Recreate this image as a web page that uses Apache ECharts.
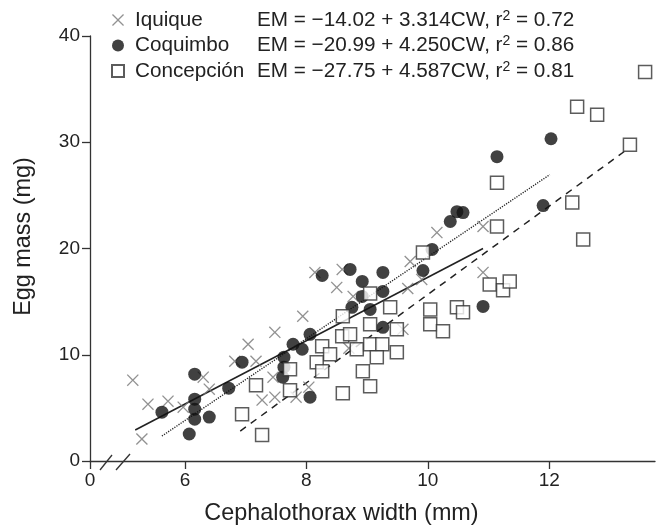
<!DOCTYPE html>
<html>
<head>
<meta charset="utf-8">
<script src="https://cdn.jsdelivr.net/npm/echarts@6/dist/echarts.min.js"></script>
<style>html,body{margin:0;padding:0;background:#fff}#c{width:656px;height:530px}</style>
</head>
<body>
<div id="c"></div>
<script>
// ---- data (CW mm, EM mg) ----
const seriesNames = ['Iquique', 'Coquimbo', 'Concepción'];
const eqIntercept = ['−14.02', '−20.99', '−27.75'];
const eqSlope = ['3.314', '4.250', '4.587'];
const eqR2 = ['0.72', '0.86', '0.81'];

const iquique = [
  [5.14,7.61],[5.39,5.35],[5.29,2.07],[5.72,5.63],[5.97,5.07],[6.30,7.89],[6.40,6.76],
  [6.82,9.39],[7.04,10.99],[7.17,9.39],[7.48,12.11],[7.45,7.89],[7.27,5.73],[7.48,6.01],
  [7.83,6.01],[8.04,6.95],[7.94,13.62],[8.14,17.75],[8.59,18.03],[8.50,16.34],[8.77,15.49],
  [8.70,10.61],[9.71,18.78],[9.67,16.24],[9.90,17.09],[9.59,12.39],[10.15,21.50],
  [10.91,22.07],[10.91,17.75]
];
const coquimbo = [
  [5.62,4.60],[6.07,2.54],[6.16,8.17],[6.16,5.82],[6.16,4.88],[6.16,3.94],[6.40,4.13],
  [6.72,6.85],[6.94,9.30],[7.63,9.77],[7.63,8.83],[7.61,7.89],[7.78,10.99],[7.93,10.52],
  [8.06,11.92],[8.06,6.01],[8.26,17.46],[8.72,18.03],[8.92,16.90],[8.92,15.49],[9.26,17.75],
  [9.26,15.96],[8.75,14.46],[9.05,14.27],[9.26,12.58],[10.07,19.91],[9.92,17.93],
  [10.48,23.47],[10.58,23.38],[10.37,22.54],[10.91,14.55],[11.14,28.64],[12.03,30.33],
  [11.90,24.04]
];
const concepcion = [
  [7.17,7.14],[6.94,4.41],[7.27,2.44],[7.73,8.64],[7.73,6.67],[8.26,10.80],[8.39,10.05],
  [8.17,9.30],[8.26,8.45],[8.60,13.62],[8.59,11.74],[8.72,11.92],[9.05,15.77],[9.38,14.46],
  [9.05,12.86],[9.49,12.39],[8.83,10.52],[9.05,10.99],[9.25,10.99],[9.16,9.77],[9.49,10.23],
  [8.93,8.45],[9.05,7.04],[8.60,6.38],[9.92,19.62],[10.04,14.27],[10.04,12.86],[10.25,12.21],
  [10.48,14.46],[10.58,13.99],[11.02,16.62],[11.24,16.06],[11.35,16.90],[11.14,22.07],
  [11.14,26.20],[12.38,24.32],[12.56,20.85],[13.33,29.77],[12.46,33.33],[12.79,32.58],
  [13.58,36.62]
];
// fitted lines as drawn (endpoints)
const lineIquique = [[5.18,2.91],[10.91,20.0]];
const lineCoquimbo = [[5.62,2.35],[12.01,26.95]];
const lineConcepcion = [[6.91,2.82],[13.30,29.39]];

// ---- axes ----
const X_MIN = 4.435, X_MAX = 13.743;
const xTickValues = [6, 8, 10, 12];
const xBreakLabel = '0';
const Y_MIN = 0, Y_MAX = 40, Y_STEP = 10;

const FONT = '"Liberation Sans", Arial, Helvetica, sans-serif';
const chart = echarts.init(document.getElementById('c'));

const xPath = 'path://M0,7.8L7.8,0L50,42.2L92.2,0L100,7.8L57.8,50L100,92.2L92.2,100L50,57.8L7.8,100L0,92.2L42.2,50Z';

const rich = {
  g: {width: 6, fontSize: 20.7, fontFamily: FONT, lineHeight: 22},
  n: {width: 122, fontSize: 20.7, fontFamily: FONT, color: '#222', lineHeight: 22},
  e: {fontSize: 20.7, fontFamily: FONT, color: '#222', lineHeight: 22},
  s: {fontSize: 14, fontFamily: FONT, color: '#222', lineHeight: 14, verticalAlign: 'top'}
};

const axisLineStyle = {color: '#333', width: 1.3};

chart.setOption({
  animation: false,
  backgroundColor: '#fff',
  grid: {left: 90, right: 1, top: 36, bottom: 68, containLabel: false},
  legend: {
    orient: 'vertical', left: 106, top: 4,
    itemWidth: 12, itemHeight: 12, itemGap: 4,
    data: seriesNames,
    selectedMode: false,
    formatter: function (name) {
      const i = seriesNames.indexOf(name);
      return '{g| }{n|' + name + '}{e|EM = ' + eqIntercept[i] + ' + ' + eqSlope[i] + 'CW, r}{s|2}{e| = ' + eqR2[i] + '}';
    },
    textStyle: {rich: rich}
  },
  xAxis: {
    type: 'value', min: X_MIN, max: X_MAX,
    name: 'Cephalothorax width (mm)', nameLocation: 'middle', nameGap: 41,
    nameTextStyle: {fontSize: 23.4, fontFamily: FONT, color: '#222', padding: [0, 62, 0, 0]},
    axisLine: {show: true, onZero: false, lineStyle: axisLineStyle},
    axisTick: {show: true, inside: false, length: 8, lineStyle: axisLineStyle,
      customValues: [X_MIN].concat(xTickValues)},
    axisLabel: {fontSize: 19, fontFamily: FONT, color: '#222', margin: 10,
      customValues: [X_MIN].concat(xTickValues),
      formatter: function (v) { return Math.abs(v - X_MIN) < 0.01 ? xBreakLabel : String(v); }},
    splitLine: {show: false}
  },
  yAxis: {
    type: 'value', min: Y_MIN, max: Y_MAX, interval: Y_STEP,
    name: 'Egg mass (mg)', nameLocation: 'middle', nameGap: 55,
    nameTextStyle: {fontSize: 23.4, fontFamily: FONT, color: '#222', padding: [0, 0, 0, 24]},
    axisLine: {show: true, onZero: false, lineStyle: axisLineStyle},
    axisTick: {show: true, length: 8, lineStyle: axisLineStyle},
    axisLabel: {fontSize: 19, fontFamily: FONT, color: '#222', margin: 10},
    splitLine: {show: false}
  },
  series: [
    {type: 'line', data: lineIquique, showSymbol: false, silent: true, z: 1,
      lineStyle: {color: '#222', width: 1.6, type: 'solid'}},
    {type: 'line', data: lineCoquimbo, showSymbol: false, silent: true, z: 1,
      lineStyle: {color: '#222', width: 1.4, type: [1.2, 1.3]}},
    {type: 'line', data: lineConcepcion, showSymbol: false, silent: true, z: 1,
      lineStyle: {color: '#222', width: 1.5, type: [7, 6]}},
    {name: seriesNames[0], type: 'scatter', data: iquique, symbol: xPath, symbolSize: 12, z: 2,
      itemStyle: {color: '#777', borderWidth: 0}},
    {name: seriesNames[1], type: 'scatter', data: coquimbo, symbol: 'circle', symbolSize: 13, z: 3,
      itemStyle: {color: '#111', borderWidth: 0}},
    {name: seriesNames[2], type: 'scatter', data: concepcion, symbol: 'rect', symbolSize: 13, z: 4,
      itemStyle: {color: '#fff', borderColor: '#333', borderWidth: 1.5}}
  ]
});

// axis break marks
const o = chart.convertToPixel({gridIndex: 0}, [X_MIN, Y_MIN]);
chart.setOption({
  graphic: [
    {type: 'line', shape: {x1: o[0] + 10, y1: o[1] + 9, x2: o[0] + 22, y2: o[1] - 6},
      style: {stroke: '#333', lineWidth: 1.3}, z: 10},
    {type: 'line', shape: {x1: o[0] + 26, y1: o[1] + 9, x2: o[0] + 40, y2: o[1] - 7},
      style: {stroke: '#333', lineWidth: 1.3}, z: 10}
  ]
});
</script>
</body>
</html>
